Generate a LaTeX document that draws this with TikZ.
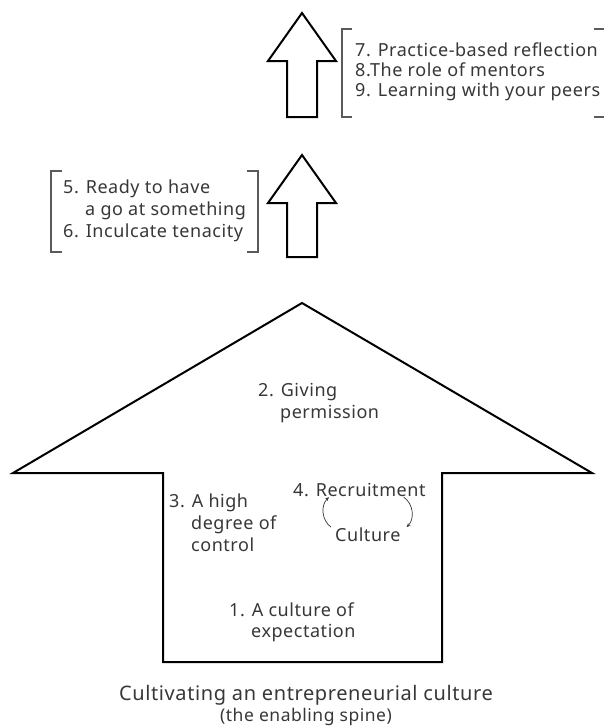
\documentclass[tikz,border=0pt]{standalone}
\usepackage{fontspec}
\setmainfont{Noto Sans}[LetterSpace=3]
\usetikzlibrary{arrows.meta}

\definecolor{txtgray}{RGB}{55,55,55}
\definecolor{brkgray}{RGB}{90,90,90}

\tikzset{
  outline/.style={draw=black, line width=2pt, line join=miter},
  brk/.style={draw=brkgray, line width=1.2pt},
  lbl/.style={anchor=base west, inner sep=0pt, text=txtgray, align=left,
    font=\fontsize{18}{22}\selectfont},
  cyc/.style={-{Stealth[length=4pt,width=3.5pt]}, line width=0.7pt, draw=txtgray}
}
\newcommand{\indt}{\hspace*{22pt}}

\begin{document}
\begin{tikzpicture}[x=1pt, y=-1pt]
  \useasboundingbox (0,0) rectangle (603,726);

  % the spine
  \draw[outline] (302,303) -- (592,473) -- (442,473) -- (442,662)
    -- (163,662) -- (163,473) -- (13,473) -- cycle;

  % the two small arrows above it
  \foreach \tip/\bot in {13/117, 155/257}
    \draw[outline] (302,\tip) -- (336,\tip+48) -- (317,\tip+48) -- (317,\bot)
      -- (287,\bot) -- (287,\tip+48) -- (268,\tip+48) -- cycle;

  % brackets
  \draw[brk] (352,29) -- (342,29) -- (342,117) -- (352,117);
  \draw[brk] (594,29) -- (607,29) -- (607,117) -- (594,117);
  \draw[brk] (62,171) -- (51,171) -- (51,252) -- (62,252);
  \draw[brk] (247,171) -- (258,171) -- (258,252) -- (247,252);

  % (base of a multi-line node = its last line)
  \node[lbl, font=\fontsize{18}{20}\selectfont] (reflect) at (355,96.7)
    {7. Practice-based reflection\\8.The role of mentors\\9. Learning with your peers};
  \node[lbl] (tenacity) at (63,237.5)
    {5. Ready to have\\\indt a go at something\\6. Inculcate tenacity};

  \node[lbl] (permit) at (258,418) {2. Giving\\\indt permission};
  \node[lbl] (control) at (169,551) {3. A high\\\indt degree of\\\indt control};
  \node[lbl] (recr) at (293,496.7) {4. Recruitment};
  \node[lbl] (cult) at (335,541) {Culture};
  \node[lbl, font=\fontsize{18}{21}\selectfont] (expect) at (229,637.3)
    {1. A culture of\\\indt expectation};

  % recruitment and culture feed each other
  \draw[cyc] ([xshift=-4]cult.north west) to[bend left=50] ([xshift=36]recr.south west);
  \draw[cyc] ([xshift=-22]recr.south east) to[bend left=50] ([xshift=6]cult.north east);

  \node[lbl, anchor=base, font=\fontsize{20}{24}\selectfont] (spine) at (306,700)
    {Cultivating an entrepreneurial culture};
  \node[lbl, anchor=base, font=\fontsize{17.5}{21}\selectfont] (spinesub) at (306,721.7)
    {(the enabling spine)};
\end{tikzpicture}
\end{document}
